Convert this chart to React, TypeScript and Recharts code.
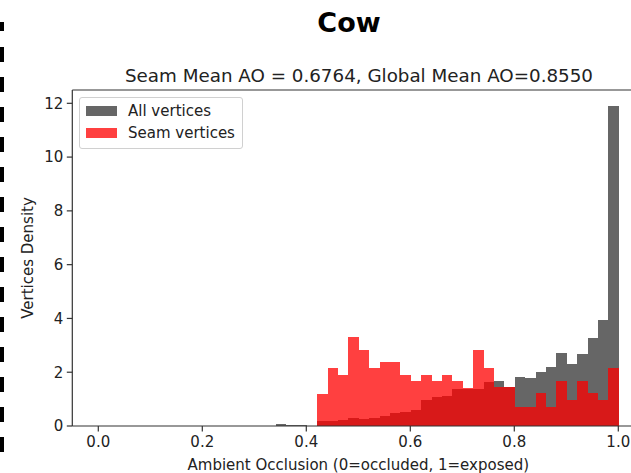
import { BarChart, Bar, XAxis, YAxis, Legend, ReferenceLine } from 'recharts'

// histogram bin centres (bin width 0.02)
const binCenters = [
  0.01, 0.03, 0.05, 0.07, 0.09, 0.11, 0.13, 0.15, 0.17, 0.19,
  0.21, 0.23, 0.25, 0.27, 0.29, 0.31, 0.33, 0.35, 0.37, 0.39,
  0.41, 0.43, 0.45, 0.47, 0.49, 0.51, 0.53, 0.55, 0.57, 0.59,
  0.61, 0.63, 0.65, 0.67, 0.69, 0.71, 0.73, 0.75, 0.77, 0.79,
  0.81, 0.83, 0.85, 0.87, 0.89, 0.91, 0.93, 0.95, 0.97, 0.99,
]

const allVertices = [
  0, 0, 0, 0, 0, 0, 0, 0, 0, 0,
  0, 0, 0, 0, 0, 0, 0, 0.07, 0.03, 0.03,
  0, 0.2, 0.2, 0.24, 0.31, 0.26, 0.31, 0.36, 0.47, 0.52,
  0.6, 0.97, 1.07, 1.1, 1.39, 1.39, 1.39, 1.62, 1.67, 1.44,
  1.83, 1.78, 2.02, 2.2, 2.72, 2.29, 2.66, 3.28, 3.94, 11.9,
]

const seamVertices = [
  0, 0, 0, 0, 0, 0, 0, 0, 0, 0,
  0, 0, 0, 0, 0, 0, 0, 0, 0, 0,
  0, 1.2, 2.14, 1.91, 3.31, 2.84, 2.14, 2.37, 2.37, 1.91,
  1.67, 1.91, 1.67, 1.91, 1.67, 1.42, 2.84, 2.14, 1.45, 1.44,
  0.71, 0.71, 1.21, 0.71, 1.67, 0.96, 1.67, 1.21, 0.96, 2.14,
]

const xTicks = [0, 0.2, 0.4, 0.6, 0.8, 1.0]
const yTicks = [0, 2, 4, 6, 8, 10, 12]

const data = binCenters.map((x, i) => ({ x, all: allVertices[i], seam: seamVertices[i] }))

const FONT = '"DejaVu Sans", sans-serif'
const INK = '#222'
const GRAY = '#666666'
const RED = '#ff0000'
const YMAX = 12.495
const X_DOMAIN: [number, number] = [-0.05, 1.05]
const PLOT_W = 572
const BIN_PX = (PLOT_W * 0.02) / (X_DOMAIN[1] - X_DOMAIN[0])

// full-width bins, edges snapped to whole pixels so neighbours meet without seams
function HistRect(props: any) {
  const { x, y, width, height, fill, fillOpacity } = props
  if (!height || height <= 0) return null
  const cx = x + width / 2
  const x0 = Math.round(cx - BIN_PX / 2)
  const x1 = Math.round(cx + BIN_PX / 2)
  const y0 = Math.round(y)
  const y1 = Math.round(y + height)
  return <rect x={x0} y={y0} width={x1 - x0} height={y1 - y0} fill={fill} fillOpacity={fillOpacity} shapeRendering="crispEdges" />
}

function LegendBox() {
  const row = (color: string, opacity: number, text: string) => (
    <div style={{ display: 'flex', alignItems: 'center', height: 22, whiteSpace: 'nowrap' }}>
      <span style={{ width: 31, height: 10, background: color, opacity, marginRight: 11, flex: 'none' }} />
      <span style={{ fontSize: 15, color: INK }}>{text}</span>
    </div>
  )
  return (
    <div
      style={{
        border: '1px solid #d0d0d0',
        borderRadius: 3,
        background: 'rgba(255,255,255,0.8)',
        padding: '2px 8px 4px 6px',
        fontFamily: FONT,
        width: 148,
      }}
    >
      {row(GRAY, 1, 'All vertices')}
      {row(RED, 0.75, 'Seam vertices')}
    </div>
  )
}

export default function App() {
  return (
    <div
      style={{
        position: 'absolute',
        left: 0,
        top: 0,
        width: 631,
        height: 473,
        overflow: 'hidden',
        background: '#fff',
        fontFamily: FONT,
      }}
    >
      <svg width={631} height={473} style={{ position: 'absolute', left: 0, top: 0 }}>
        <line x1={2} y1={22} x2={2} y2={31} stroke="#000" strokeWidth={4} />
        <line x1={2} y1={47} x2={2} y2={462} stroke="#000" strokeWidth={4} strokeDasharray="15 15" />
        <text x={349} y={32} textAnchor="middle" fontFamily={FONT} fontWeight="bold" fontSize={27} fill="#000">
          Cow
        </text>
        <text x={359} y={81.5} textAnchor="middle" fontFamily={FONT} fontSize={18.3} fill={INK}>
          Seam Mean AO = 0.6764, Global Mean AO=0.8550
        </text>
      </svg>
      <div style={{ position: 'absolute', left: 0, top: 0 }}>
        <BarChart
          width={680}
          height={473}
          data={data}
          margin={{ top: 90, right: 35.7, bottom: 0, left: 0 }}
          barCategoryGap={0}
          barGap={0}
        >
          <XAxis
            xAxisId="a"
            dataKey="x"
            type="number"
            domain={X_DOMAIN}
            ticks={xTicks}
            tickFormatter={(v: number) => v.toFixed(1)}
            height={47}
            tickSize={5.5}
            tickMargin={5}
            stroke="#333"
            strokeWidth={1.2}
            tick={{ fill: INK, fontSize: 15, fontFamily: FONT }}
            label={(p: any) => (
              <text
                x={p.viewBox.x + p.viewBox.width / 2}
                y={p.viewBox.y + 44}
                textAnchor="middle"
                fontFamily={FONT}
                fontSize={15}
                fill={INK}
              >
                Ambient Occlusion (0=occluded, 1=exposed)
              </text>
            )}
          />
          <XAxis xAxisId="b" dataKey="x" type="number" domain={X_DOMAIN} hide />
          <YAxis
            type="number"
            domain={[0, YMAX]}
            ticks={yTicks}
            width={72.3}
            tickSize={5.5}
            tickMargin={3.5}
            stroke="#333"
            strokeWidth={1.2}
            tick={{ fill: INK, fontSize: 15, fontFamily: FONT }}
            label={(p: any) => {
              const cx = p.viewBox.x + 28
              const cy = p.viewBox.y + p.viewBox.height / 2
              return (
                <text
                  x={cx}
                  y={cy}
                  transform={`rotate(-90 ${cx} ${cy})`}
                  textAnchor="middle"
                  dominantBaseline="central"
                  fontFamily={FONT}
                  fontSize={15}
                  fill={INK}
                >
                  Vertices Density
                </text>
              )
            }}
          />
          <Legend
            layout="vertical"
            align="center"
            verticalAlign="middle"
            wrapperStyle={{ left: 79, top: 97, width: 'auto' }}
            content={() => <LegendBox />}
          />
          <Bar
            xAxisId="a"
            dataKey="all"
            name="All vertices"
            fill={GRAY}
            barSize={BIN_PX}
            isAnimationActive={false}
            shape={HistRect}
          />
          <Bar
            xAxisId="b"
            dataKey="seam"
            name="Seam vertices"
            fill={RED}
            fillOpacity={0.75}
            barSize={BIN_PX}
            isAnimationActive={false}
            shape={HistRect}
          />
          <ReferenceLine xAxisId="a" y={YMAX} stroke="#333" strokeWidth={1.2} />
        </BarChart>
      </div>
    </div>
  )
}
